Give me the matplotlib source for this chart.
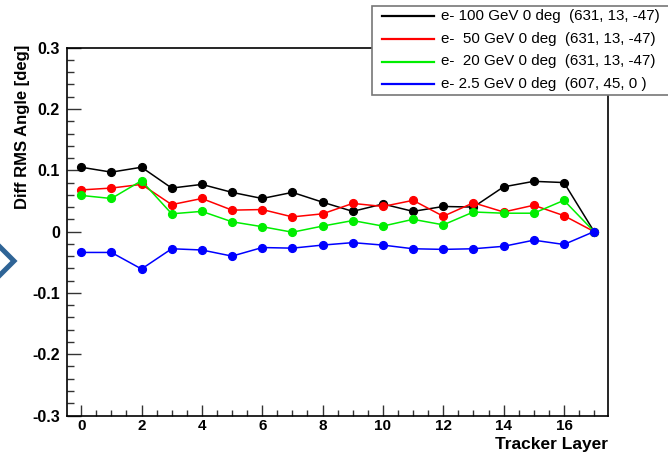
import matplotlib
matplotlib.use("Agg")
import matplotlib.pyplot as plt
from matplotlib.lines import Line2D
from matplotlib.patches import Rectangle
from matplotlib.ticker import MultipleLocator

plt.rcParams['font.family'] = ['Liberation Sans', 'DejaVu Sans']

# tracker layers 0..17
layers = list(range(18))

e100 = [0.105, 0.097, 0.105, 0.071, 0.077, 0.064, 0.054, 0.064, 0.048, 0.033,
        0.045, 0.033, 0.041, 0.040, 0.073, 0.082, 0.080, 0.0]
e50 = [0.068, 0.071, 0.077, 0.044, 0.054, 0.035, 0.036, 0.024, 0.029, 0.046,
       0.041, 0.051, 0.025, 0.047, 0.032, 0.043, 0.026, 0.0]
e20 = [0.059, 0.054, 0.083, 0.029, 0.033, 0.016, 0.008, -0.001, 0.009, 0.018,
       0.009, 0.020, 0.011, 0.032, 0.030, 0.030, 0.051, 0.0]
e2p5 = [-0.034, -0.034, -0.061, -0.028, -0.030, -0.040, -0.026, -0.027, -0.022, -0.018,
        -0.022, -0.028, -0.029, -0.028, -0.024, -0.014, -0.021, 0.0]

series = [e100, e50, e20, e2p5]
colors = ['black', '#ff0000', '#00ee00', '#0000ff']
labels = ['e- 100 GeV 0 deg  (631, 13, -47)',
          'e-  50 GeV 0 deg  (631, 13, -47)',
          'e-  20 GeV 0 deg  (631, 13, -47)',
          'e- 2.5 GeV 0 deg  (607, 45, 0 )']

W, H = 668, 458
fig = plt.figure(figsize=(W / 100, H / 100), dpi=100)


def fx(x):
    return x / W


def fy(y):
    return 1 - y / H


ax = fig.add_axes([fx(67), fy(415.5), fx(608) - fx(67), fy(47.7) - fy(415.5)])

for vals, c in zip(series, colors):
    ax.plot(layers, vals, color=c, lw=1.1, marker='o', ms=5.6, mec=c, mfc=c)

ax.set_xlim(-0.47, 17.46)
ax.set_ylim(-0.3, 0.3)
ax.xaxis.set_major_locator(MultipleLocator(2))
ax.xaxis.set_minor_locator(MultipleLocator(0.5))
ax.yaxis.set_minor_locator(MultipleLocator(0.02))
ax.set_yticks([-0.3, -0.2, -0.1, 0, 0.1, 0.2, 0.3])
ax.set_yticklabels(['-0.3', '-0.2', '-0.1', '0', '0.1', '0.2', '0.3'])
ax.tick_params(axis='both', which='both', direction='in', top=False, right=False,
               labelsize=11.5, width=1.0, color='#333333')
ax.tick_params(axis='x', which='major', length=8, pad=2.5, labelsize=11)
ax.tick_params(axis='x', which='minor', length=4)
ax.tick_params(axis='y', which='major', length=10, pad=5)
ax.tick_params(axis='y', which='minor', length=5)
for lab in ax.get_xticklabels() + ax.get_yticklabels():
    lab.set_fontweight('bold')
for s in ax.spines.values():
    s.set_linewidth(1.2)

fig.text(fx(22), fy(45), 'Diff RMS Angle [deg]', rotation=90, ha='center', va='top',
         fontsize=12, fontweight='bold')
fig.text(fx(608), fy(445), 'Tracker Layer', ha='right', va='center',
         fontsize=12.5, fontweight='bold')

# legend box, runs off the right edge like the reference
fig.add_artist(Rectangle((fx(372), fy(95)), fx(320), fy(6) - fy(95), transform=fig.transFigure,
                         facecolor='white', edgecolor='#777777', lw=1.2, zorder=5))
rows = [16, 39, 61.5, 84]
for y, c, lab in zip(rows, colors, labels):
    fig.add_artist(Line2D([fx(382), fx(434)], [fy(y), fy(y)], color=c, lw=1.6,
                          transform=fig.transFigure, zorder=6))
    fig.text(fx(441), fy(y), lab, ha='left', va='center', fontsize=10.9, zorder=6)

# slide arrow at the left edge
fig.add_artist(Line2D([fx(-4), fx(14), fx(-4)], [fy(243), fy(261), fy(279)], color='#2f6496',
                      lw=3.6, solid_joinstyle='miter', transform=fig.transFigure))

fig.savefig('out.png', dpi=100)
